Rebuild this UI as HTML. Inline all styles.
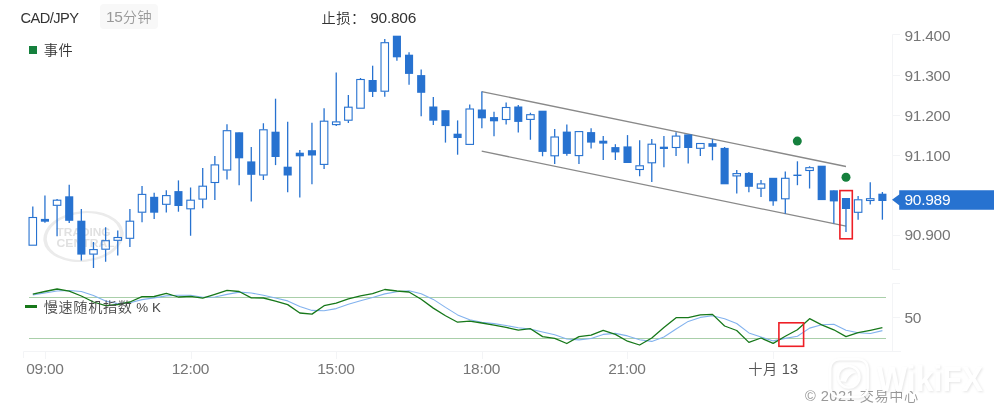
<!DOCTYPE html>
<html lang="zh-CN"><head><meta charset="utf-8"><title>CAD/JPY</title>
<style>
html,body{margin:0;padding:0;background:#fff;}
body{width:994px;height:414px;position:relative;overflow:hidden;font-family:"Liberation Sans","Noto Sans CJK SC",sans-serif;font-size:14.67px;color:#333;}
svg{position:absolute;left:0;top:0;}
.t{position:absolute;white-space:nowrap;line-height:20px;height:20px;}
.ax{color:#767676;}
.cj{font-size:14.2px;letter-spacing:0.6px;font-weight:350;}
.n{font-size:15.5px;letter-spacing:-0.27px;}
.c{transform:translateX(-50%);}
.badge{position:absolute;left:100px;top:4px;width:58px;height:25px;background:#f8f8f8;border-radius:4px;}
</style></head><body>
<svg width="994" height="414" viewBox="0 0 994 414">
<g stroke="#f3f4f6" stroke-width="1" fill="none">
<path d="M900 34.5H892.5V269.5H900M900 283.5H892.5V351.5M23.5 358V351.5H901"/>
<path d="M892.5 75.5H900"/>
<path d="M892.5 115.5H900"/>
<path d="M892.5 155.5H900"/>
<path d="M892.5 235.5H900"/>
<path d="M892.5 317.5H900"/>
<path d="M45.5 351.5V359"/>
<path d="M191.5 351.5V359"/>
<path d="M336.5 351.5V359"/>
<path d="M482.5 351.5V359"/>
<path d="M627.5 351.5V359"/>
<path d="M773.5 351.5V359"/>
</g>
<path fill-rule="evenodd" fill="#ebebeb" transform="rotate(-6 83.5 236.5)" d="M43.2 236.5a40.3 25.4 0 1 0 80.6 0a40.3 25.4 0 1 0 -80.6 0ZM46.7 236.5a36.8 23.2 0 1 0 73.6 0a36.8 23.2 0 1 0 -73.6 0Z"/>
<text x="56.6" y="236.4" font-family="Liberation Sans, sans-serif" font-weight="bold" font-size="11.6" fill="#e1e1e1" textLength="54" lengthAdjust="spacingAndGlyphs">TRADING</text>
<text x="56.6" y="246.6" font-family="Liberation Sans, sans-serif" font-weight="bold" font-size="11" fill="#e1e1e1" textLength="58" lengthAdjust="spacingAndGlyphs">CENTRAL</text>
<path d="M481.7 91.6L846 166.5M481.7 151.2L846 226.2" stroke="#898989" stroke-width="1.3" fill="none"/>
<path d="M32.80 206.5V217.3" stroke="#2772d0" stroke-width="1.3"/>
<rect x="29.05" y="217.50" width="7.5" height="27.70" fill="none" stroke="#2772d0" stroke-width="1.1"/>
<path d="M44.94 195.4V222.8" stroke="#2772d0" stroke-width="1.3"/>
<rect x="40.89" y="218.90" width="8.1" height="2.80" fill="#2772d0"/>
<path d="M57.07 199.0V200.0M57.07 205.5V236.2" stroke="#2772d0" stroke-width="1.3"/>
<rect x="53.32" y="200.20" width="7.5" height="5.10" fill="none" stroke="#2772d0" stroke-width="1.1"/>
<path d="M69.21 184.8V223.0" stroke="#2772d0" stroke-width="1.3"/>
<rect x="65.16" y="196.30" width="8.1" height="24.50" fill="#2772d0"/>
<path d="M81.35 209.0V260.5" stroke="#2772d0" stroke-width="1.3"/>
<rect x="77.30" y="220.70" width="8.1" height="33.90" fill="#2772d0"/>
<path d="M93.48 242.0V249.4M93.48 254.3V267.9" stroke="#2772d0" stroke-width="1.3"/>
<rect x="89.73" y="249.60" width="7.5" height="4.50" fill="none" stroke="#2772d0" stroke-width="1.1"/>
<path d="M105.62 227.2V240.5M105.62 249.4V261.7" stroke="#2772d0" stroke-width="1.3"/>
<rect x="101.87" y="240.70" width="7.5" height="8.50" fill="none" stroke="#2772d0" stroke-width="1.1"/>
<path d="M117.76 230.4V237.3M117.76 240.5V255.5" stroke="#2772d0" stroke-width="1.3"/>
<rect x="114.01" y="237.50" width="7.5" height="2.80" fill="none" stroke="#2772d0" stroke-width="1.1"/>
<path d="M129.90 209.0V221.0M129.90 238.5V246.9" stroke="#2772d0" stroke-width="1.3"/>
<rect x="126.15" y="221.20" width="7.5" height="17.10" fill="none" stroke="#2772d0" stroke-width="1.1"/>
<path d="M142.03 186.0V194.2M142.03 212.4V222.3" stroke="#2772d0" stroke-width="1.3"/>
<rect x="138.28" y="194.40" width="7.5" height="17.80" fill="none" stroke="#2772d0" stroke-width="1.1"/>
<path d="M154.17 192.7V219.1" stroke="#2772d0" stroke-width="1.3"/>
<rect x="150.12" y="196.80" width="8.1" height="15.90" fill="#2772d0"/>
<path d="M166.31 190.2V195.4M166.31 204.5V212.5" stroke="#2772d0" stroke-width="1.3"/>
<rect x="162.56" y="195.60" width="7.5" height="8.70" fill="none" stroke="#2772d0" stroke-width="1.1"/>
<path d="M178.44 180.4V211.7" stroke="#2772d0" stroke-width="1.3"/>
<rect x="174.39" y="191.10" width="8.1" height="14.90" fill="#2772d0"/>
<path d="M190.58 187.5V200.0M190.58 209.0V235.8" stroke="#2772d0" stroke-width="1.3"/>
<rect x="186.83" y="200.20" width="7.5" height="8.60" fill="none" stroke="#2772d0" stroke-width="1.1"/>
<path d="M202.72 168.0V186.0M202.72 199.3V208.2" stroke="#2772d0" stroke-width="1.3"/>
<rect x="198.97" y="186.20" width="7.5" height="12.90" fill="none" stroke="#2772d0" stroke-width="1.1"/>
<path d="M214.86 156.0V164.7M214.86 182.7V200.0" stroke="#2772d0" stroke-width="1.3"/>
<rect x="211.11" y="164.90" width="7.5" height="17.60" fill="none" stroke="#2772d0" stroke-width="1.1"/>
<path d="M226.99 124.3V130.5M226.99 170.2V179.5" stroke="#2772d0" stroke-width="1.3"/>
<rect x="223.24" y="130.70" width="7.5" height="39.30" fill="none" stroke="#2772d0" stroke-width="1.1"/>
<path d="M239.13 132.6V185.2" stroke="#2772d0" stroke-width="1.3"/>
<rect x="235.08" y="132.30" width="8.1" height="26.00" fill="#2772d0"/>
<path d="M251.27 146.9V201.5" stroke="#2772d0" stroke-width="1.3"/>
<rect x="247.22" y="161.40" width="8.1" height="13.40" fill="#2772d0"/>
<path d="M263.40 123.3V129.6M263.40 175.2V180.1" stroke="#2772d0" stroke-width="1.3"/>
<rect x="259.65" y="129.80" width="7.5" height="45.20" fill="none" stroke="#2772d0" stroke-width="1.1"/>
<path d="M275.54 98.7V165.1" stroke="#2772d0" stroke-width="1.3"/>
<rect x="271.49" y="131.70" width="8.1" height="25.30" fill="#2772d0"/>
<path d="M287.68 121.8V192.2" stroke="#2772d0" stroke-width="1.3"/>
<rect x="283.63" y="166.70" width="8.1" height="8.80" fill="#2772d0"/>
<path d="M299.81 150.0V197.4" stroke="#2772d0" stroke-width="1.3"/>
<rect x="295.76" y="152.70" width="8.1" height="3.60" fill="#2772d0"/>
<path d="M311.95 122.7V184.3" stroke="#2772d0" stroke-width="1.3"/>
<rect x="307.90" y="150.20" width="8.1" height="5.30" fill="#2772d0"/>
<path d="M324.09 108.3V121.0M324.09 164.6V169.0" stroke="#2772d0" stroke-width="1.3"/>
<rect x="320.34" y="121.20" width="7.5" height="43.20" fill="none" stroke="#2772d0" stroke-width="1.1"/>
<path d="M336.23 72.4V121.7M336.23 124.8V126.1" stroke="#2772d0" stroke-width="1.3"/>
<rect x="332.48" y="121.90" width="7.5" height="2.70" fill="none" stroke="#2772d0" stroke-width="1.1"/>
<path d="M348.36 95.0V107.0M348.36 120.4V123.0" stroke="#2772d0" stroke-width="1.3"/>
<rect x="344.61" y="107.20" width="7.5" height="13.00" fill="none" stroke="#2772d0" stroke-width="1.1"/>
<path d="M360.50 78.0V79.3" stroke="#2772d0" stroke-width="1.3"/>
<rect x="356.75" y="79.50" width="7.5" height="28.70" fill="none" stroke="#2772d0" stroke-width="1.1"/>
<path d="M372.64 65.7V97.0" stroke="#2772d0" stroke-width="1.3"/>
<rect x="368.59" y="80.00" width="8.1" height="11.90" fill="#2772d0"/>
<path d="M384.77 39.0V42.5M384.77 91.4V96.8" stroke="#2772d0" stroke-width="1.3"/>
<rect x="381.02" y="42.70" width="7.5" height="48.50" fill="none" stroke="#2772d0" stroke-width="1.1"/>
<path d="M396.91 36.0V60.8" stroke="#2772d0" stroke-width="1.3"/>
<rect x="392.86" y="35.70" width="8.1" height="21.60" fill="#2772d0"/>
<path d="M409.05 52.2V84.7" stroke="#2772d0" stroke-width="1.3"/>
<rect x="405.00" y="54.70" width="8.1" height="19.20" fill="#2772d0"/>
<path d="M421.18 69.4V116.3" stroke="#2772d0" stroke-width="1.3"/>
<rect x="417.13" y="75.10" width="8.1" height="17.70" fill="#2772d0"/>
<path d="M433.32 97.0V125.1" stroke="#2772d0" stroke-width="1.3"/>
<rect x="429.27" y="106.50" width="8.1" height="14.20" fill="#2772d0"/>
<path d="M445.46 110.5V142.6" stroke="#2772d0" stroke-width="1.3"/>
<rect x="441.41" y="110.20" width="8.1" height="15.90" fill="#2772d0"/>
<path d="M457.60 120.4V154.7" stroke="#2772d0" stroke-width="1.3"/>
<rect x="453.55" y="133.70" width="8.1" height="4.30" fill="#2772d0"/>
<path d="M469.73 104.4V108.8" stroke="#2772d0" stroke-width="1.3"/>
<rect x="465.98" y="109.00" width="7.5" height="35.40" fill="none" stroke="#2772d0" stroke-width="1.1"/>
<path d="M481.87 91.6V128.3" stroke="#2772d0" stroke-width="1.3"/>
<rect x="477.82" y="109.50" width="8.1" height="8.80" fill="#2772d0"/>
<path d="M494.01 111.8V136.2" stroke="#2772d0" stroke-width="1.3"/>
<rect x="489.96" y="117.10" width="8.1" height="4.20" fill="#2772d0"/>
<path d="M506.14 102.4V107.3M506.14 119.7V124.6" stroke="#2772d0" stroke-width="1.3"/>
<rect x="502.39" y="107.50" width="7.5" height="12.00" fill="none" stroke="#2772d0" stroke-width="1.1"/>
<path d="M518.28 104.9V132.5" stroke="#2772d0" stroke-width="1.3"/>
<rect x="514.23" y="106.50" width="8.1" height="15.40" fill="#2772d0"/>
<path d="M530.42 112.8V114.5M530.42 119.6V139.8" stroke="#2772d0" stroke-width="1.3"/>
<rect x="526.67" y="114.70" width="7.5" height="4.70" fill="none" stroke="#2772d0" stroke-width="1.1"/>
<path d="M542.55 111.0V156.3" stroke="#2772d0" stroke-width="1.3"/>
<rect x="538.50" y="110.70" width="8.1" height="41.20" fill="#2772d0"/>
<path d="M554.69 129.0V136.8M554.69 156.0V164.0" stroke="#2772d0" stroke-width="1.3"/>
<rect x="550.94" y="137.00" width="7.5" height="18.80" fill="none" stroke="#2772d0" stroke-width="1.1"/>
<path d="M566.83 124.5V155.8" stroke="#2772d0" stroke-width="1.3"/>
<rect x="562.78" y="131.60" width="8.1" height="22.30" fill="#2772d0"/>
<path d="M578.96 155.8V164.0" stroke="#2772d0" stroke-width="1.3"/>
<rect x="575.21" y="131.60" width="7.5" height="24.00" fill="none" stroke="#2772d0" stroke-width="1.1"/>
<path d="M591.10 128.2V148.4" stroke="#2772d0" stroke-width="1.3"/>
<rect x="587.05" y="132.10" width="8.1" height="10.50" fill="#2772d0"/>
<path d="M603.24 136.1V160.0" stroke="#2772d0" stroke-width="1.3"/>
<rect x="599.19" y="140.70" width="8.1" height="2.90" fill="#2772d0"/>
<path d="M615.38 144.2V160.0" stroke="#2772d0" stroke-width="1.3"/>
<rect x="611.33" y="147.10" width="8.1" height="5.30" fill="#2772d0"/>
<path d="M627.51 135.1V162.7" stroke="#2772d0" stroke-width="1.3"/>
<rect x="623.46" y="146.40" width="8.1" height="16.60" fill="#2772d0"/>
<path d="M639.65 140.3V165.6M639.65 169.7V176.2" stroke="#2772d0" stroke-width="1.3"/>
<rect x="635.90" y="165.80" width="7.5" height="3.70" fill="none" stroke="#2772d0" stroke-width="1.1"/>
<path d="M651.79 139.1V144.0M651.79 163.0V182.0" stroke="#2772d0" stroke-width="1.3"/>
<rect x="648.04" y="144.20" width="7.5" height="18.60" fill="none" stroke="#2772d0" stroke-width="1.1"/>
<path d="M663.92 135.9V167.2" stroke="#2772d0" stroke-width="1.3"/>
<rect x="659.87" y="146.70" width="8.1" height="2.30" fill="#2772d0"/>
<path d="M676.06 132.2V135.9M676.06 147.7V156.1" stroke="#2772d0" stroke-width="1.3"/>
<rect x="672.31" y="136.10" width="7.5" height="11.40" fill="none" stroke="#2772d0" stroke-width="1.1"/>
<path d="M688.20 134.7V163.5" stroke="#2772d0" stroke-width="1.3"/>
<rect x="684.15" y="134.40" width="8.1" height="13.60" fill="#2772d0"/>
<path d="M700.34 148.5V156.1" stroke="#2772d0" stroke-width="1.3"/>
<rect x="696.59" y="143.50" width="7.5" height="4.80" fill="none" stroke="#2772d0" stroke-width="1.1"/>
<path d="M712.47 139.1V160.3" stroke="#2772d0" stroke-width="1.3"/>
<rect x="708.42" y="143.20" width="8.1" height="3.60" fill="#2772d0"/>
<path d="M724.61 147.0V184.0" stroke="#2772d0" stroke-width="1.3"/>
<rect x="720.56" y="147.90" width="8.1" height="36.40" fill="#2772d0"/>
<path d="M736.75 169.9V173.4M736.75 176.1V193.6" stroke="#2772d0" stroke-width="1.3"/>
<rect x="733.00" y="173.60" width="7.5" height="2.30" fill="none" stroke="#2772d0" stroke-width="1.1"/>
<path d="M748.88 172.0V192.2" stroke="#2772d0" stroke-width="1.3"/>
<rect x="744.83" y="172.90" width="8.1" height="13.90" fill="#2772d0"/>
<path d="M761.02 180.0V183.7M761.02 188.4V197.1" stroke="#2772d0" stroke-width="1.3"/>
<rect x="757.27" y="183.90" width="7.5" height="4.30" fill="none" stroke="#2772d0" stroke-width="1.1"/>
<path d="M773.16 178.1V205.7" stroke="#2772d0" stroke-width="1.3"/>
<rect x="769.11" y="177.80" width="8.1" height="23.50" fill="#2772d0"/>
<path d="M785.29 171.4V178.1M785.29 199.0V213.8" stroke="#2772d0" stroke-width="1.3"/>
<rect x="781.54" y="178.30" width="7.5" height="20.50" fill="none" stroke="#2772d0" stroke-width="1.1"/>
<path d="M797.43 161.3V185.2" stroke="#2772d0" stroke-width="1.3"/>
<rect x="793.38" y="174.60" width="8.1" height="1.40" fill="#2772d0"/>
<path d="M809.57 166.2V167.5M809.57 170.7V188.4" stroke="#2772d0" stroke-width="1.3"/>
<rect x="805.82" y="167.70" width="7.5" height="2.80" fill="none" stroke="#2772d0" stroke-width="1.1"/>
<path d="M821.70 166.0V199.8" stroke="#2772d0" stroke-width="1.3"/>
<rect x="817.65" y="165.70" width="8.1" height="34.40" fill="#2772d0"/>
<path d="M833.84 190.6V223.5" stroke="#2772d0" stroke-width="1.3"/>
<rect x="829.79" y="190.30" width="8.1" height="11.10" fill="#2772d0"/>
<path d="M845.98 198.0V232.0" stroke="#2772d0" stroke-width="1.3"/>
<rect x="841.93" y="198.00" width="8.1" height="11.00" fill="#2772d0"/>
<path d="M858.12 196.1V199.6M858.12 212.5V219.7" stroke="#2772d0" stroke-width="1.3"/>
<rect x="854.37" y="199.80" width="7.5" height="12.50" fill="none" stroke="#2772d0" stroke-width="1.1"/>
<path d="M870.25 182.2V198.5M870.25 200.7V204.4" stroke="#2772d0" stroke-width="1.3"/>
<rect x="866.50" y="198.70" width="7.5" height="1.80" fill="none" stroke="#2772d0" stroke-width="1.1"/>
<path d="M882.39 192.0V219.7" stroke="#2772d0" stroke-width="1.3"/>
<rect x="878.34" y="193.70" width="8.1" height="7.30" fill="#2772d0"/>
<circle cx="797.3" cy="141.1" r="4.5" fill="#15803d"/>
<circle cx="846" cy="177.3" r="4.5" fill="#15803d"/>
<rect x="839.9" y="190.6" width="12.4" height="48.2" fill="none" stroke="#ee1f26" stroke-width="1.6"/>
<path d="M899.2 190.3H994V209.7H899.2V205.2L892 199.8L899.2 194.4Z" fill="#2772d0"/>
<path d="M29 297.5H886M29 338.5H886" stroke="#a9cfa9" stroke-width="1.1" fill="none"/>
<path d="M32.8 295 L44.9 293 L57.1 291 L69.2 290.5 L81.3 291.5 L93.5 295.6 L105.6 301.1 L117.8 303.5 L129.9 302.8 L142.0 299.6 L154.2 297.9 L166.3 295.9 L178.4 295.3 L190.6 295.3 L202.7 297.3 L214.9 297 L227.0 294.4 L239.1 292.1 L251.3 293 L263.4 295.3 L275.5 298 L287.7 300.9 L299.8 306.5 L312.0 310.4 L324.1 310.8 L336.2 308.6 L348.4 304.3 L360.5 300.7 L372.6 297.5 L384.8 293.9 L396.9 291.7 L409.0 290.8 L421.2 293.8 L433.3 299.4 L445.5 307.4 L457.6 314.9 L469.7 319.7 L481.9 322.3 L494.0 323.6 L506.1 325.5 L518.3 327.7 L530.4 329.1 L542.6 332 L554.7 334.8 L566.8 339 L579.0 339.9 L591.1 338.5 L603.2 334.4 L615.4 333.4 L627.5 335.9 L639.6 339.8 L651.8 341.4 L663.9 337 L676.1 329 L688.2 321.4 L700.3 317.4 L712.5 315.8 L724.6 318.7 L736.7 323.5 L748.9 332.9 L761.0 337 L773.2 340.9 L785.3 338.4 L797.4 336.3 L809.6 328.1 L821.7 324.8 L833.8 324.3 L846.0 330.3 L858.1 332.7 L870.3 333.5 L882.4 330.6" stroke="#82b2ee" stroke-width="1.1" fill="none" stroke-linejoin="round"/>
<path d="M32.8 294.1 L44.9 291.5 L57.1 289 L69.2 291.2 L81.3 296 L93.5 302 L105.6 305.7 L117.8 304.5 L129.9 302 L142.0 296.7 L154.2 296.5 L166.3 293.4 L178.4 297 L190.6 296.3 L202.7 298.2 L214.9 294.4 L227.0 290.4 L239.1 291.5 L251.3 297.8 L263.4 298 L275.5 301.1 L287.7 304.6 L299.8 313 L312.0 314.1 L324.1 305.7 L336.2 303.1 L348.4 298.8 L360.5 295.9 L372.6 293.7 L384.8 289.5 L396.9 291 L409.0 292 L421.2 299.3 L433.3 308.1 L445.5 315.8 L457.6 322.2 L469.7 321.1 L481.9 323 L494.0 325.1 L506.1 327.4 L518.3 330.1 L530.4 328.7 L542.6 336.6 L554.7 338.3 L566.8 343.5 L579.0 336.6 L591.1 335.1 L603.2 330.3 L615.4 334.4 L627.5 341.2 L639.6 345 L651.8 338 L663.9 327.6 L676.1 317.7 L688.2 317.7 L700.3 314.8 L712.5 314.4 L724.6 326 L736.7 330.5 L748.9 342.4 L761.0 338 L773.2 343.4 L785.3 336.3 L797.4 329.7 L809.6 318.7 L821.7 324.8 L833.8 329.8 L846.0 336.6 L858.1 332.7 L870.3 330.3 L882.4 327.7" stroke="#17781a" stroke-width="1.3" fill="none" stroke-linejoin="round"/>
<rect x="778.9" y="322.8" width="24.7" height="23.5" fill="none" stroke="#ee1f26" stroke-width="1.6"/>
<rect x="29" y="46" width="8" height="8" fill="#15803d"/>
<rect x="25" y="305" width="12" height="3" fill="#17781a"/>
</svg>
<div class="badge"></div>
<div class="t" style="left:20.5px;top:7.6px;letter-spacing:-0.55px;">CAD/JPY</div>
<div class="t" style="left:106px;top:7.4px;color:#999;"><span class="n">15</span><span class="cj">分钟</span></div>
<div class="t" style="left:321.5px;top:8px;"><span class="cj">止损：</span></div>
<div class="t n" style="left:370.2px;top:7.8px;">90.806</div>
<div class="t" style="left:43.7px;top:39.8px;"><span class="cj">事件</span></div>
<div class="t" style="left:43.8px;top:297px;color:#484848;letter-spacing:-0.1px;"><span class="cj">慢速随机指数</span><span style="font-size:13.4px;letter-spacing:0"> % K</span></div>
<div class="t ax n" style="left:904.5px;top:25.5px;">91.400</div>
<div class="t ax n" style="left:904.5px;top:65.5px;">91.300</div>
<div class="t ax n" style="left:904.5px;top:105.5px;">91.200</div>
<div class="t ax n" style="left:904.5px;top:145.5px;">91.100</div>
<div class="t n" style="left:904.5px;top:190px;color:#fff;">90.989</div>
<div class="t ax n" style="left:904.5px;top:225px;">90.900</div>
<div class="t ax n" style="left:904.5px;top:307.5px;">50</div>
<div class="t ax n c" style="left:45px;top:358.7px;">09:00</div>
<div class="t ax n c" style="left:190.5px;top:358.7px;">12:00</div>
<div class="t ax n c" style="left:336px;top:358.7px;">15:00</div>
<div class="t ax n c" style="left:481.5px;top:358.7px;">18:00</div>
<div class="t ax n c" style="left:627px;top:358.7px;">21:00</div>
<div class="t c" style="left:773.2px;top:358.7px;color:#555;"><span class="cj">十月</span> 13</div>
<div class="t" style="left:805px;top:385.9px;color:#999;letter-spacing:0.45px;">© 2021 <span class="cj">交易中心</span></div>
<svg width="994" height="414" viewBox="0 0 994 414" style="filter:drop-shadow(1px 1px 1.2px rgba(0,0,0,0.10));">
<rect x="830.2" y="359.2" width="37.5" height="37.8" rx="9" fill="none" stroke="#fff" stroke-width="2.4"/>
<circle cx="848.7" cy="376.8" r="10.8" fill="none" stroke="#fff" stroke-width="2.4"/>
<path d="M840 381c3-8 10-11 17-9c-5 1-9 4-11 10z" fill="#fff"/>
<text x="877" y="391.4" font-family="Liberation Sans, sans-serif" font-weight="bold" font-size="34.5" fill="#fff" textLength="106" lengthAdjust="spacingAndGlyphs">WikiFX</text>
</svg>
</body></html>
